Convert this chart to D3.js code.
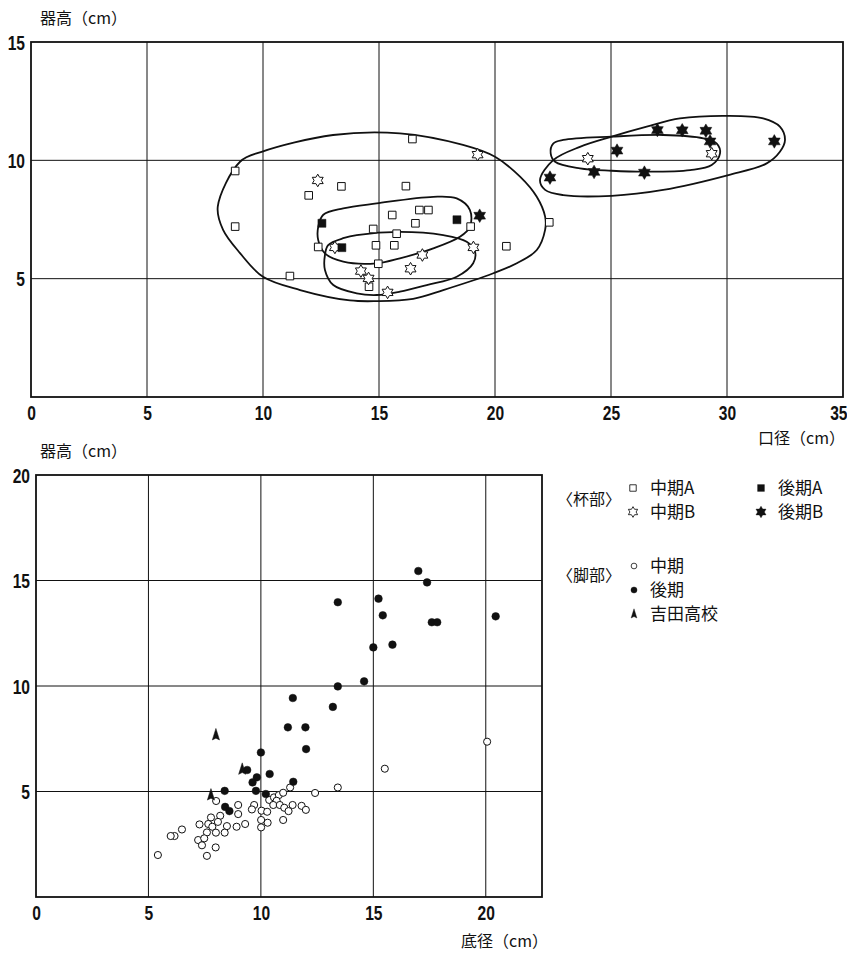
<!DOCTYPE html>
<html><head><meta charset="utf-8">
<script src="https://cdn.jsdelivr.net/npm/d3@7/dist/d3.min.js"></script>
<style>
html,body{margin:0;padding:0;background:#fff;}
svg{display:block;}
.num{font-family:'Liberation Sans',Arial,sans-serif;font-weight:bold;font-size:20px;fill:#111;}
.cjk{font-family:'Noto Sans CJK JP','Noto Sans CJK SC',sans-serif;fill:#111;}
</style></head><body>
<svg id="c" width="847" height="954"></svg>
<script>
// ---------- Data: top chart (杯部) 口径 × 器高 ----------
const topXTicks = [0,5,10,15,20,25,30,35];
const topYTicks = [5,10,15];
const cupMidA = [[8.8,9.55],[8.8,7.2],[11.97,8.52],[13.38,8.9],[12.38,6.34],[11.16,5.11],[15.57,7.69],[14.75,7.1],[15.76,6.9],[14.87,6.41],[15.66,6.41],[14.97,5.63],[14.57,4.66],[16.44,10.9],[16.16,8.91],[16.74,7.9],[17.13,7.9],[16.57,7.34],[18.95,7.2],[20.49,6.37],[22.34,7.38]];
const cupMidB = [[12.36,9.15],[13.1,6.32],[14.22,5.32],[14.55,5.01],[15.37,4.42],[19.25,10.24],[16.87,6.0],[19.07,6.32],[16.36,5.42],[24.0,10.07],[29.34,10.28]];
const cupLateA = [[12.54,7.34],[13.4,6.31],[18.36,7.49]];
const cupLateB = [[19.34,7.66],[22.37,9.27],[24.27,9.51],[25.26,10.41],[26.44,9.48],[27.0,11.28],[28.07,11.27],[29.09,11.25],[29.27,10.8],[32.04,10.8]];
// enclosing outlines (data units)
const outlineMidA = [[8.05,8.04],[9.01,9.94],[9.94,10.36],[13.02,11.07],[15.9,11.14],[18.62,10.65],[20.0,10.15],[21.08,9.31],[21.8,8.46],[22.16,7.62],[22.16,7.06],[21.8,6.21],[20.94,5.65],[19.93,5.23],[17.77,4.52],[16.47,4.15],[14.9,4.05],[13.75,4.08],[11.6,4.52],[10.0,5.08],[9.01,6.08],[8.28,7.06]];
const outlineLateA = [[12.38,7.19],[12.6,7.7],[13.46,7.97],[14.9,8.18],[17.34,8.46],[18.35,8.39],[18.92,7.9],[18.92,7.19],[18.49,6.77],[17.34,6.28],[15.9,5.86],[14.9,5.65],[13.46,5.72],[12.67,6.07],[12.38,6.63]];
const outlineMidB = [[12.81,6.42],[13.5,6.72],[14.04,6.84],[15.9,6.98],[17.77,6.84],[18.78,6.56],[19.14,6.14],[19.06,5.65],[18.35,5.08],[17.06,4.73],[15.9,4.45],[14.9,4.31],[14.04,4.38],[13.03,4.73],[12.67,5.37],[12.67,6.0]];
const outlineLateB = [[21.94,9.17],[22.16,8.75],[22.94,8.53],[25.03,8.5],[27.25,8.75],[30.06,9.38],[31.71,9.87],[32.28,10.36],[32.5,10.86],[32.28,11.42],[31.56,11.77],[29.99,11.88],[27.97,11.77],[26.54,11.42],[25.03,11.0],[23.66,10.57],[22.51,10.01]];
const outlineRight = [[22.4,10.29],[22.51,10.71],[22.94,10.86],[25.03,11.0],[27.25,11.07],[28.98,10.93],[29.56,10.71],[29.7,10.29],[29.34,9.8],[28.41,9.59],[26.54,9.52],[25.03,9.56],[23.66,9.66],[22.59,9.94]];

// ---------- Data: bottom chart (脚部) 底径 × 器高 ----------
const botXTicks = [0,5,10,15,20];
const botYTicks = [5,10,15,20];
const footMid = [[20.06,7.36],[15.51,6.08],[13.42,5.19],[12.41,4.93],[8.01,4.55],[8.99,4.36],[9.7,4.36],[10.37,4.6],[10.58,4.72],[10.8,4.83],[10.99,4.94],[11.3,5.19],[10.7,4.56],[10.55,4.36],[10.84,4.36],[11.04,4.23],[11.41,4.36],[11.81,4.32],[12.0,4.13],[11.23,4.07],[10.03,4.09],[10.28,4.04],[9.6,4.15],[8.99,3.93],[8.19,3.85],[7.78,3.77],[7.27,3.44],[7.66,3.46],[8.09,3.56],[8.49,3.36],[7.84,3.33],[8.92,3.33],[9.3,3.46],[8.39,3.05],[8.0,3.05],[7.6,3.06],[10.01,3.65],[10.3,3.52],[10.01,3.3],[10.99,3.65],[6.49,3.2],[6.16,2.89],[5.99,2.89],[7.21,2.7],[7.48,2.78],[7.38,2.45],[7.99,2.35],[7.6,1.95],[5.42,1.99]];
const footLate = [[17.0,15.45],[17.39,14.91],[13.42,13.97],[15.23,14.14],[15.42,13.35],[17.6,13.02],[17.84,13.02],[20.44,13.3],[15.85,11.96],[15.0,11.83],[14.59,10.22],[13.42,9.98],[13.2,9.01],[11.42,9.43],[11.2,8.04],[11.98,8.04],[12.01,7.01],[10.0,6.85],[9.39,6.02],[10.39,5.83],[9.82,5.67],[9.63,5.43],[11.44,5.46],[9.78,5.03],[8.39,5.03],[10.22,4.88],[8.41,4.27],[8.6,4.07]];
const yoshida = [[8.0,7.68],[9.17,6.05],[7.78,4.83]];

const legendCup = [["sqOpen","中期A"],["starOpen","中期B"],["sqFill","後期A"],["starFill","後期B"]];
const legendFoot = [["circOpen","中期"],["circFill","後期"],["tri","吉田高校"]];

// ---------- drawing ----------
const svg = d3.select("#c");
const ink = "#111";

function star6(R){ const r=R*0.58, p=[]; for(let i=0;i<12;i++){const a=-Math.PI/2+i*Math.PI/6, rr=i%2?r:R; p.push([rr*Math.cos(a), rr*Math.sin(a)]);} return "M"+p.map(d=>d.join(",")).join("L")+"Z"; }
const shapes = {
  sqOpen: {d:"M-3.8,-3.8H3.8V3.8H-3.8Z", fill:"#fff", stroke:ink, sw:1},
  sqFill: {d:"M-4,-4H4V4H-4Z", fill:ink, stroke:ink, sw:0.5},
  starOpen: {d:star6(6.3), fill:"#fff", stroke:ink, sw:1},
  starFill: {d:star6(6.8), fill:ink, stroke:ink, sw:0.5},
  circOpen: {d:d3.symbol(d3.symbolCircle, 40)(), fill:"#fff", stroke:ink, sw:1},
  circFill: {d:d3.symbol(d3.symbolCircle, 46)(), fill:ink, stroke:ink, sw:0.5},
  tri: {d:"M0,-6.5L3.6,5L0,3.2L-3.6,5Z", fill:ink, stroke:ink, sw:0.5}
};
function drawPoints(g, data, sx, sy, key){
  const s = shapes[key];
  g.selectAll(null).data(data).enter().append("path")
    .attr("d", s.d).attr("transform", d=>`translate(${sx(d[0])},${sy(d[1])})`)
    .attr("fill", s.fill).attr("stroke", s.stroke).attr("stroke-width", s.sw);
}
function frame(g, sx, sy, xt, yt){
  const [x0,x1]=sx.range(), [y0,y1]=sy.range();
  g.append("g").selectAll("line").data(xt.filter(v=>v>sx.domain()[0] && v<sx.domain()[1])).enter().append("line")
    .attr("x1",d=>sx(d)).attr("x2",d=>sx(d)).attr("y1",y1).attr("y2",y0).attr("stroke",ink).attr("stroke-width",1);
  g.append("g").selectAll("line").data(yt.filter(v=>v>sy.domain()[0] && v<sy.domain()[1])).enter().append("line")
    .attr("y1",d=>sy(d)).attr("y2",d=>sy(d)).attr("x1",x0).attr("x2",x1).attr("stroke",ink).attr("stroke-width",1);
  g.append("rect").attr("x",x0).attr("y",y1).attr("width",x1-x0).attr("height",y0-y1)
    .attr("fill","none").attr("stroke",ink).attr("stroke-width",1.8);
}
function styleNums(sel){
  sel.attr("class","num").attr("font-size",null).attr("font-family",null).attr("fill",null)
     .attr("dy","0.36em").attr("transform","scale(0.78,1)");
}
function axes(g, sx, sy, xt, yt, xLabY){
  const ax = d3.axisBottom(sx).tickValues(xt).tickSize(0).tickPadding(0).tickFormat(d3.format("d"));
  const gx = g.append("g").attr("transform",`translate(0,${xLabY})`).call(ax);
  gx.select(".domain").remove();
  styleNums(gx.selectAll("text"));
  gx.selectAll(".tick").filter(d=>d===sx.domain()[1]).select("text").attr("x",-6);
  const ay = d3.axisLeft(sy).tickValues(yt).tickSize(0).tickPadding(0).tickFormat(d3.format("d"));
  const gy = g.append("g").attr("transform",`translate(${sx.range()[0]-6},0)`).call(ay);
  gy.select(".domain").remove();
  styleNums(gy.selectAll("text"));
}

// Top chart
const tx = d3.scaleLinear().domain([0,35]).range([31,843]);
const ty = d3.scaleLinear().domain([0,15]).range([397,42]);
const gT = svg.append("g");
frame(gT, tx, ty, topXTicks, topYTicks);
const outline = (sx,sy)=>d3.line().x(d=>sx(d[0])).y(d=>sy(d[1])).curve(d3.curveCatmullRomClosed.alpha(0.5));
[outlineMidA, outlineLateA, outlineMidB, outlineLateB, outlineRight].forEach(o=>{
  gT.append("path").attr("d", outline(tx,ty)(o)).attr("fill","none").attr("stroke",ink).attr("stroke-width",1.8);
});
drawPoints(gT, cupMidA, tx, ty, "sqOpen");
drawPoints(gT, cupMidB, tx, ty, "starOpen");
drawPoints(gT, cupLateA, tx, ty, "sqFill");
drawPoints(gT, cupLateB, tx, ty, "starFill");
axes(gT, tx, ty, topXTicks, topYTicks, 413);
gT.append("text").attr("class","cjk").attr("x",40).attr("y",18).attr("dy","0.35em").attr("font-size",16).text("器高（cm）");
gT.append("text").attr("class","cjk").attr("x",845).attr("y",438).attr("dy","0.35em").attr("text-anchor","end").attr("font-size",16).text("口径（cm）");

// Bottom chart
const bx = d3.scaleLinear().domain([0,22.5]).range([36,542]);
const by = d3.scaleLinear().domain([0,20]).range([897,475]);
const gB = svg.append("g");
frame(gB, bx, by, botXTicks, botYTicks);
drawPoints(gB, footMid, bx, by, "circOpen");
drawPoints(gB, footLate, bx, by, "circFill");
drawPoints(gB, yoshida, bx, by, "tri");
axes(gB, bx, by, botXTicks, botYTicks, 913);
gB.append("text").attr("class","cjk").attr("x",40).attr("y",451).attr("dy","0.35em").attr("font-size",16).text("器高（cm）");
gB.append("text").attr("class","cjk").attr("x",548).attr("y",941).attr("dy","0.35em").attr("text-anchor","end").attr("font-size",16).text("底径（cm）");

// Legend
const gL = svg.append("g");
gL.append("text").attr("class","cjk").attr("x",557).attr("y",499).attr("dy","0.35em").attr("font-size",16).text("〈杯部〉");
const cupPos = [[633,488],[633,512],[761,488],[761,512]];
legendCup.forEach((d,i)=>{
  const s=shapes[d[0]], [x,y]=cupPos[i];
  gL.append("path").attr("d",s.d).attr("transform",`translate(${x},${y}) scale(0.85)`).attr("fill",s.fill).attr("stroke",s.stroke).attr("stroke-width",s.sw);
  gL.append("text").attr("class","cjk").attr("x",x+17).attr("y",y).attr("dy","0.35em").attr("font-size",17).text(d[1]);
});
gL.append("text").attr("class","cjk").attr("x",557).attr("y",575).attr("dy","0.35em").attr("font-size",16).text("〈脚部〉");
const footPos = [[634,566],[634,590],[634,614]];
legendFoot.forEach((d,i)=>{
  const s=shapes[d[0]], [x,y]=footPos[i];
  gL.append("path").attr("d",s.d).attr("transform",`translate(${x},${y}) scale(0.8)`).attr("fill",s.fill).attr("stroke",s.stroke).attr("stroke-width",s.sw);
  gL.append("text").attr("class","cjk").attr("x",x+16).attr("y",y).attr("dy","0.35em").attr("font-size",17).text(d[1]);
});
</script>
</body></html>
